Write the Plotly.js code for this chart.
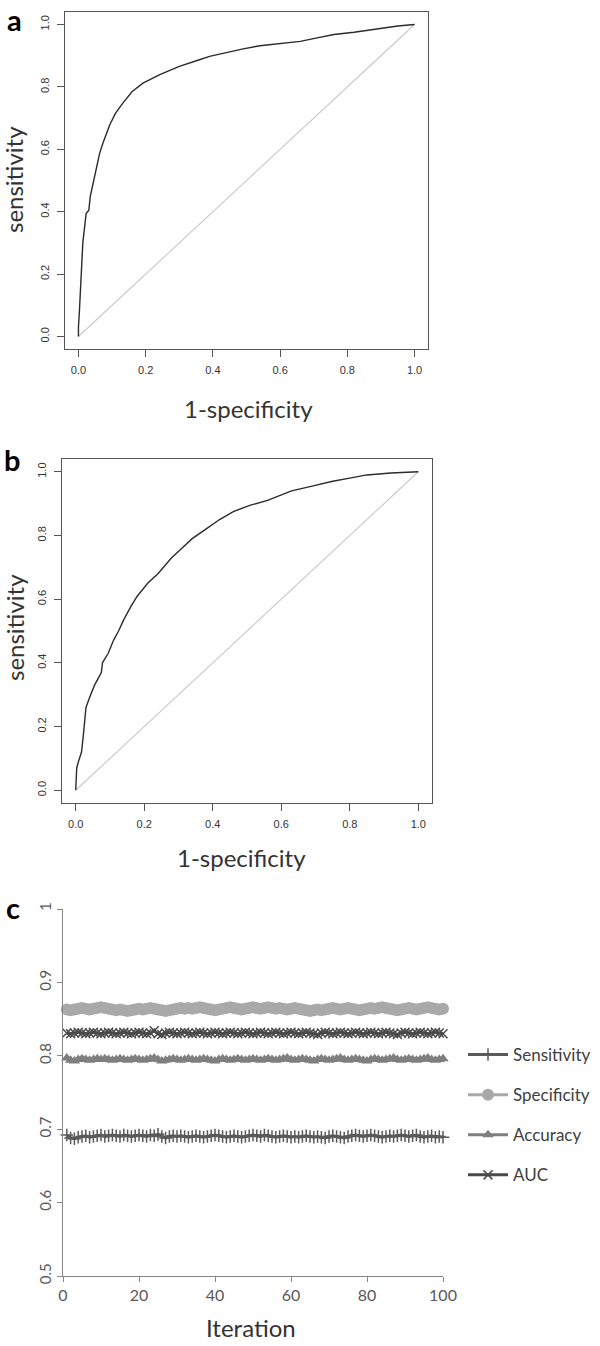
<!DOCTYPE html>
<html>
<head>
<meta charset="utf-8">
<script src="https://cdn.plot.ly/plotly-3.0.1.min.js"></script>
<style>html,body{margin:0;padding:0;background:#fff;}#chart{width:600px;height:1346px;}</style>
</head>
<body>
<div id="chart"></div>
<script>
// ---------- Panel a ROC ----------
var fprA = [0, 0.000, 0.003, 0.008, 0.013, 0.023, 0.031, 0.035, 0.043, 0.053, 0.063, 0.073, 0.093, 0.110, 0.132, 0.160, 0.192, 0.242, 0.300, 0.360, 0.390, 0.450, 0.490, 0.540, 0.600, 0.660, 0.710, 0.760, 0.820, 0.870, 0.910, 0.950, 1.000];
var tprA = [0, 0.030, 0.084, 0.190, 0.300, 0.395, 0.405, 0.448, 0.490, 0.534, 0.587, 0.620, 0.678, 0.715, 0.748, 0.785, 0.812, 0.839, 0.866, 0.887, 0.898, 0.912, 0.922, 0.932, 0.940, 0.946, 0.957, 0.968, 0.975, 0.983, 0.990, 0.995, 1.000];
// ---------- Panel b ROC ----------
var fprB = [0, 0.002, 0.003, 0.008, 0.017, 0.023, 0.030, 0.040, 0.055, 0.070, 0.075, 0.078, 0.095, 0.110, 0.125, 0.140, 0.160, 0.180, 0.210, 0.240, 0.280, 0.310, 0.340, 0.380, 0.420, 0.460, 0.510, 0.560, 0.630, 0.690, 0.750, 0.800, 0.850, 0.920, 1.000];
var tprB = [0, 0.030, 0.070, 0.090, 0.120, 0.180, 0.260, 0.290, 0.330, 0.360, 0.370, 0.400, 0.430, 0.470, 0.500, 0.535, 0.575, 0.610, 0.650, 0.680, 0.730, 0.760, 0.790, 0.820, 0.850, 0.875, 0.895, 0.910, 0.940, 0.955, 0.970, 0.980, 0.990, 0.996, 1.000];
var diag = [0, 1];
var rocTicks = [0, 0.2, 0.4, 0.6, 0.8, 1.0];
var rocTickText = ["0.0", "0.2", "0.4", "0.6", "0.8", "1.0"];

// ---------- Panel c ----------
var iteration = [];
for (var i = 1; i <= 100; i++) iteration.push(i);
var seriesNames = ["Sensitivity", "Specificity", "Accuracy", "AUC"];
var sensitivity = [
0.692,0.688,0.687,0.689,0.690,0.691,0.689,0.690,0.691,0.692,
0.690,0.691,0.692,0.691,0.690,0.692,0.691,0.690,0.691,0.692,
0.691,0.690,0.692,0.691,0.693,0.690,0.688,0.690,0.691,0.690,
0.691,0.690,0.689,0.690,0.691,0.690,0.689,0.690,0.691,0.692,
0.691,0.690,0.689,0.690,0.691,0.690,0.689,0.690,0.691,0.692,
0.691,0.690,0.692,0.691,0.690,0.689,0.690,0.691,0.690,0.689,
0.690,0.689,0.690,0.691,0.690,0.689,0.690,0.689,0.688,0.690,
0.691,0.690,0.689,0.688,0.690,0.691,0.692,0.691,0.690,0.691,
0.692,0.691,0.690,0.689,0.690,0.691,0.690,0.691,0.692,0.691,
0.690,0.691,0.692,0.690,0.689,0.690,0.691,0.689,0.690,0.689];
var specificity = [
0.863,0.862,0.863,0.864,0.865,0.864,0.863,0.864,0.865,0.866,
0.865,0.864,0.863,0.862,0.863,0.862,0.861,0.862,0.863,0.864,
0.863,0.864,0.865,0.864,0.863,0.862,0.861,0.862,0.863,0.864,
0.865,0.864,0.865,0.864,0.865,0.866,0.865,0.864,0.863,0.862,
0.863,0.864,0.865,0.866,0.865,0.864,0.863,0.864,0.865,0.866,
0.865,0.864,0.865,0.866,0.865,0.864,0.865,0.864,0.863,0.864,
0.865,0.864,0.863,0.862,0.861,0.862,0.863,0.862,0.863,0.864,
0.865,0.864,0.863,0.864,0.865,0.864,0.863,0.862,0.863,0.864,
0.865,0.864,0.865,0.866,0.865,0.864,0.863,0.862,0.863,0.864,
0.865,0.864,0.863,0.864,0.865,0.866,0.865,0.864,0.863,0.864];
var accuracy = [
0.797,0.794,0.793,0.795,0.796,0.795,0.794,0.795,0.796,0.795,
0.796,0.795,0.794,0.795,0.796,0.795,0.794,0.795,0.796,0.795,
0.794,0.795,0.796,0.797,0.795,0.793,0.794,0.795,0.796,0.795,
0.794,0.795,0.796,0.795,0.794,0.795,0.796,0.795,0.794,0.793,
0.795,0.796,0.795,0.794,0.795,0.796,0.795,0.794,0.795,0.796,
0.795,0.794,0.795,0.796,0.795,0.794,0.795,0.796,0.797,0.795,
0.794,0.795,0.796,0.795,0.794,0.793,0.795,0.796,0.795,0.794,
0.795,0.796,0.797,0.795,0.794,0.795,0.796,0.795,0.794,0.793,
0.795,0.796,0.795,0.794,0.795,0.796,0.797,0.795,0.794,0.795,
0.796,0.795,0.794,0.795,0.796,0.797,0.795,0.794,0.795,0.796];
var auc = [
0.831,0.830,0.831,0.832,0.831,0.830,0.831,0.832,0.831,0.830,
0.831,0.832,0.831,0.830,0.831,0.832,0.831,0.830,0.831,0.832,
0.831,0.830,0.831,0.834,0.830,0.829,0.831,0.832,0.831,0.830,
0.831,0.832,0.831,0.830,0.831,0.832,0.831,0.830,0.831,0.832,
0.831,0.830,0.831,0.832,0.831,0.830,0.831,0.832,0.831,0.830,
0.831,0.832,0.831,0.830,0.831,0.832,0.831,0.830,0.831,0.832,
0.831,0.830,0.831,0.832,0.831,0.830,0.829,0.831,0.832,0.831,
0.830,0.831,0.832,0.831,0.830,0.831,0.832,0.831,0.830,0.831,
0.832,0.831,0.830,0.831,0.832,0.831,0.830,0.829,0.831,0.832,
0.831,0.830,0.831,0.832,0.831,0.830,0.831,0.832,0.831,0.830];

var H = 1346, W = 600;
function py(p) { return 1 - p / H; }
function px(p) { return p / W; }

var traces = [
  {x: diag, y: diag, xaxis: 'x', yaxis: 'y', mode: 'lines', line: {color: '#c8c8c8', width: 1.1}, showlegend: false, hoverinfo: 'skip'},
  {x: fprA, y: tprA, xaxis: 'x', yaxis: 'y', mode: 'lines', line: {color: '#2b2b2b', width: 1.4}, showlegend: false},
  {x: diag, y: diag, xaxis: 'x2', yaxis: 'y2', mode: 'lines', line: {color: '#c8c8c8', width: 1.1}, showlegend: false, hoverinfo: 'skip'},
  {x: fprB, y: tprB, xaxis: 'x2', yaxis: 'y2', mode: 'lines', line: {color: '#2b2b2b', width: 1.4}, showlegend: false},
  {x: iteration, y: sensitivity, name: seriesNames[0], legendgroup: 'g1', xaxis: 'x3', yaxis: 'y3', mode: 'lines+markers', cliponaxis: false,
   line: {color: '#5a5a5a', width: 3}, marker: {symbol: 'cross-thin-open', size: 9, color: '#5a5a5a', line: {color: '#5a5a5a', width: 1.5}}},
  {x: iteration, y: specificity, name: seriesNames[1], legendgroup: 'g2', xaxis: 'x3', yaxis: 'y3', mode: 'lines+markers', cliponaxis: false,
   line: {color: '#a9a9a9', width: 3}, marker: {symbol: 'circle', size: 12, color: '#a9a9a9'}},
  {x: iteration, y: accuracy, name: seriesNames[2], legendgroup: 'g3', xaxis: 'x3', yaxis: 'y3', mode: 'lines+markers', cliponaxis: false,
   line: {color: '#7f7f7f', width: 3}, marker: {symbol: 'triangle-up', size: 10, color: '#7f7f7f'}},
  {x: iteration, y: auc, name: seriesNames[3], legendgroup: 'g4', xaxis: 'x3', yaxis: 'y3', mode: 'lines+markers', cliponaxis: false,
   line: {color: '#4a4a4a', width: 3}, marker: {symbol: 'x-thin-open', size: 9, color: '#4a4a4a', line: {color: '#4a4a4a', width: 1.5}}}
];

var rocTickFont = {family: 'Liberation Sans, Arial, sans-serif', size: 11, color: '#333'};
function rocX(domain, anchor) {
  return {domain: domain, anchor: anchor, range: [-0.04, 1.04], tickvals: rocTicks, ticktext: rocTickText,
    showline: true, mirror: true, linecolor: '#555', linewidth: 1, ticks: 'outside', ticklen: 7, tickcolor: '#555',
    showgrid: false, zeroline: false, tickfont: rocTickFont, ticklabelstandoff: 4};
}
function rocY(domain, anchor) {
  return {domain: domain, anchor: anchor, range: [-0.04, 1.04], tickvals: rocTicks, ticktext: rocTickText, tickangle: -90,
    showline: true, mirror: true, linecolor: '#555', linewidth: 1, ticks: 'outside', ticklen: 7, tickcolor: '#555',
    showgrid: false, zeroline: false, tickfont: rocTickFont, ticklabelstandoff: 4};
}

var titleFont = {family: 'Lato, Open Sans, sans-serif', size: 24, color: '#333'};
var labelFont = {family: 'Lato, Open Sans, sans-serif', size: 29, color: '#000', weight: 'bold'};

var layout = {
  width: W, height: H,
  margin: {l: 0, r: 0, t: 0, b: 0},
  paper_bgcolor: '#fff', plot_bgcolor: '#fff',
  showlegend: true,
  xaxis: rocX([px(65), px(428)], 'y'),
  yaxis: rocY([py(349), py(12)], 'x'),
  xaxis2: rocX([px(62), px(432)], 'y2'),
  yaxis2: rocY([py(803), py(459)], 'x2'),
  xaxis3: {domain: [px(63), px(443)], anchor: 'y3', range: [0, 100], dtick: 20, tick0: 0,
    showline: true, linecolor: '#868686', linewidth: 1, ticks: 'outside', ticklen: 5, tickcolor: '#868686',
    showgrid: false, zeroline: false, tickfont: {family: 'Lato, Open Sans, sans-serif', size: 16, color: '#595959'}},
  yaxis3: {domain: [py(1276), py(909)], anchor: 'x3', range: [0.5, 1], dtick: 0.1, tick0: 0.5, tickangle: -90,
    showline: true, linecolor: '#868686', linewidth: 1, ticks: 'outside', ticklen: 5, tickcolor: '#868686',
    showgrid: false, zeroline: false, tickfont: {family: 'Lato, Open Sans, sans-serif', size: 15, color: '#595959'}},
  legend: {x: px(463), y: py(1037), xanchor: 'left', yanchor: 'top', tracegroupgap: 15, itemwidth: 40,
    font: {family: 'Lato, Open Sans, sans-serif', size: 17, color: '#404040'}, bgcolor: 'rgba(0,0,0,0)'},
  annotations: [
    {text: 'a', x: px(5), y: 1, xref: 'paper', yref: 'paper', xanchor: 'left', yanchor: 'top', showarrow: false, font: labelFont},
    {text: 'b', x: px(2), y: py(459), xref: 'paper', yref: 'paper', xanchor: 'left', yanchor: 'middle', showarrow: false, font: labelFont},
    {text: 'c', x: px(4), y: py(907), xref: 'paper', yref: 'paper', xanchor: 'left', yanchor: 'middle', showarrow: false, font: labelFont},
    {text: '1-specificity', x: px(248), y: py(408), xref: 'paper', yref: 'paper', xanchor: 'center', yanchor: 'middle', showarrow: false, font: titleFont},
    {text: 'sensitivity', x: px(14), y: py(180), xref: 'paper', yref: 'paper', xanchor: 'center', yanchor: 'middle', textangle: -90, showarrow: false, font: titleFont},
    {text: '1-specificity', x: px(241), y: py(857), xref: 'paper', yref: 'paper', xanchor: 'center', yanchor: 'middle', showarrow: false, font: titleFont},
    {text: 'sensitivity', x: px(14), y: py(628), xref: 'paper', yref: 'paper', xanchor: 'center', yanchor: 'middle', textangle: -90, showarrow: false, font: titleFont},
    {text: 'Iteration', x: px(251), y: py(1344), xref: 'paper', yref: 'paper', xanchor: 'center', yanchor: 'bottom', showarrow: false, font: titleFont}
  ]
};

Plotly.newPlot('chart', traces, layout, {staticPlot: true, displayModeBar: false});
</script>
</body>
</html>
